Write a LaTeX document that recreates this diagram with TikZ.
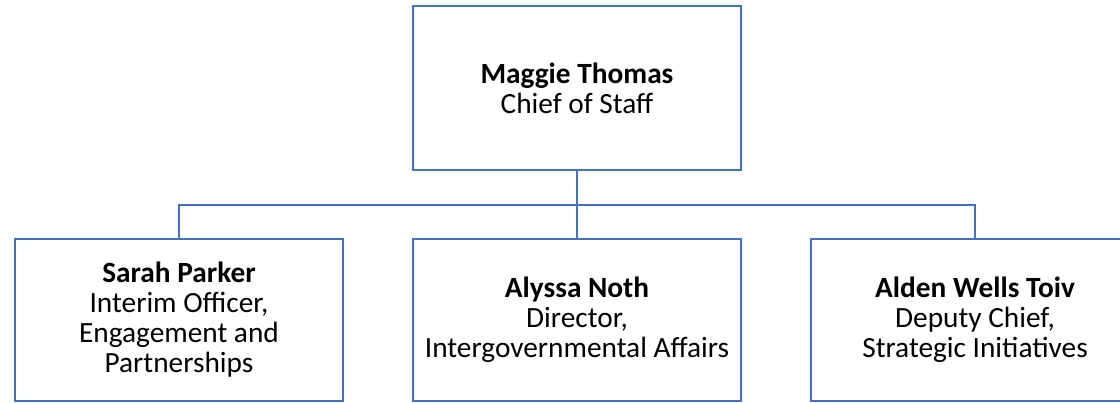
\documentclass[tikz,border=0pt]{standalone}
\usepackage{fontspec}
\setmainfont{Carlito}
\definecolor{orgblue}{HTML}{4472C4}
\begin{document}
\begin{tikzpicture}[x=0.75pt,y=-0.75pt]
    \tikzstyle{person}= [draw=orgblue, line width=2pt, minimum width=246pt, inner sep=0pt, align=center, font=\fontsize{22}{22.5}\selectfont]
    \tikzstyle{wire}= [orgblue, line width=2pt]
  \def\bary{205}
  \useasboundingbox (0,0) rectangle (1120,403);

  \node[person, minimum height=123pt] (maggie) at (577,88) {\textbf{Maggie Thomas}\\Chief of Staff};
  \coordinate (bar) at (577,\bary);

  \foreach \x/\who/\txt in {179/sarah/{\textbf{Sarah Parker}\\Interim Officer,\\Engagement and\\Partnerships},
      577/alyssa/{\textbf{Alyssa Noth}\\Director,\\Intergovernmental Affairs},
      975/alden/{\textbf{Alden Wells Toiv}\\Deputy Chief,\\Strategic Initiatives}}
    \node[person, minimum height=121.5pt] (\who) at (\x,320) {\txt};

  \draw[wire] (maggie.south) -- (bar);
  \draw[wire] (sarah.north) |- (bar) -| (alden.north);
  \draw[wire] (bar) -- (alyssa.north);
\end{tikzpicture}
\end{document}
